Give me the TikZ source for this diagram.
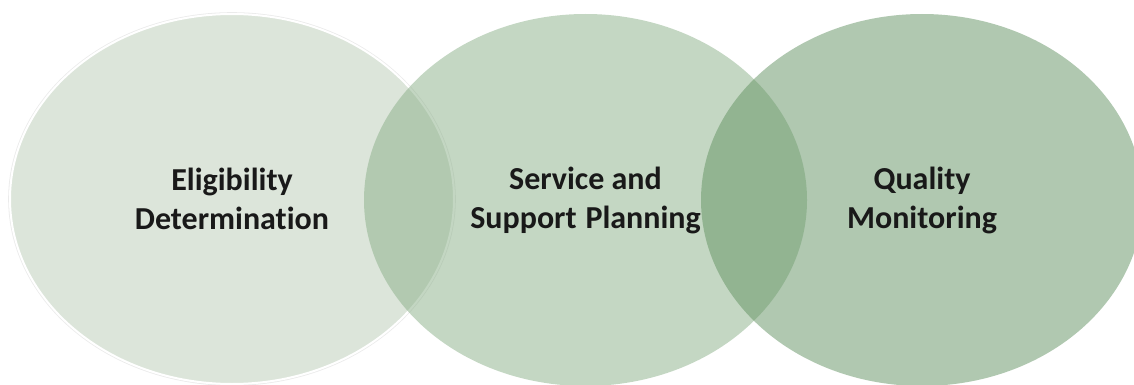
\documentclass[tikz,border=0pt]{standalone}
\usepackage{fontspec}
\setmainfont[RawFeature=-liga]{Carlito}
\usepackage{tikz}
\usetikzlibrary{shapes.geometric}

\definecolor{eligfill}{RGB}{220,229,218}
\definecolor{planfill}{RGB}{137,175,135}
\definecolor{qualfill}{RGB}{97,145,97}

\begin{document}
\begin{tikzpicture}[x=0.5pt,y=-0.5pt,
    phase/.style={ellipse,inner sep=0pt,align=center,text=black!90,
        font=\bfseries\fontsize{16}{19.5}\selectfont},
    faded/.style={fill opacity=0.5,text opacity=1}]
            % \tikzstyle{phase}=[draw=none]
            \useasboundingbox (0,0) rectangle (1134,385);
            \clip (0,0) rectangle (1134,385);

            \node[phase, fill=eligfill, draw=white, line width=1pt,
                preaction={draw=black!8, line width=1.8pt},
                minimum width=222pt, minimum height=185pt]
                (elig) at (232,199) {Eligibility\\Determination};
            \node[phase, faded, fill=planfill,
                minimum width=221.5pt, minimum height=186pt]
                (plan) at (585.5,200) {Service and\\Support\hspace{0.05em} Planning};
            \node[phase, faded, fill=qualfill,
                minimum width=221pt, minimum height=186pt]
                (qual) at (922,200) {Quality\\Monitoring};
        \end{tikzpicture}
\end{document}
